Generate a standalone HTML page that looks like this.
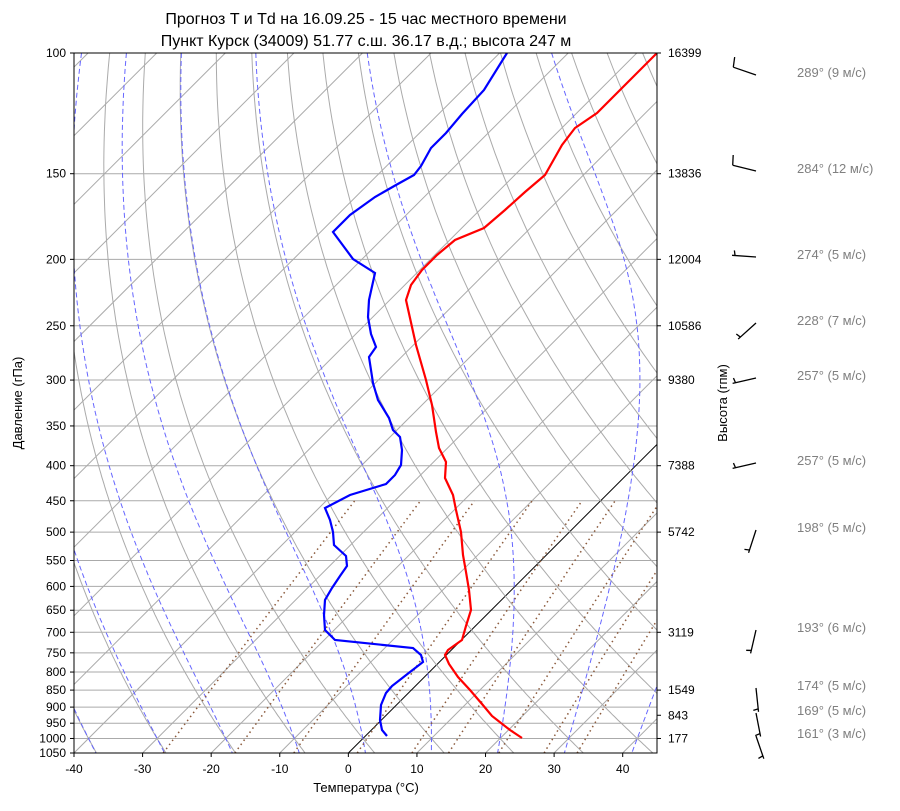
<!DOCTYPE html>
<html><head><meta charset="utf-8"><style>
body{margin:0;background:#fff;}
svg{font-family:"Liberation Sans","DejaVu Sans",sans-serif;}
</style></head><body>
<svg id="s" width="900" height="806" xmlns="http://www.w3.org/2000/svg">
<defs><clipPath id="c"><rect x="74" y="53" width="583" height="700"/></clipPath></defs>
<g id="bg" clip-path="url(#c)"></g>
<g id="prof" clip-path="url(#c)"></g>
<rect x="74" y="53" width="583" height="700" fill="none" stroke="#000" stroke-width="1"/>
<g id="ax"></g>
<text x="366" y="24" font-size="16" text-anchor="middle">Прогноз T и Td на 16.09.25 - 15 час местного времени</text>
<text x="366" y="46" font-size="16" text-anchor="middle">Пункт Курск (34009) 51.77 с.ш. 36.17 в.д.; высота 247 м</text>
<text x="366" y="792" font-size="13" text-anchor="middle">Температура (°C)</text>
<text transform="translate(22,403) rotate(-90)" font-size="13" text-anchor="middle">Давление (гПа)</text>
<text transform="translate(727,403) rotate(-90)" font-size="13" text-anchor="middle">Высота (гпм)</text>
</svg>
<script>
const NS="http://www.w3.org/2000/svg";
const L0=Math.log(100),L1=Math.log(1050),Y0=53,H=700;
function Y(p){return Y0+(Math.log(p)-L0)/(L1-L0)*H;}
function X(T,p){return 74+(T+40)*583/85+(753-Y(p));}
function el(par,tag,a,txt){const e=document.createElementNS(NS,tag);for(const k in a)e.setAttribute(k,a[k]);if(txt!==undefined)e.textContent=txt;document.getElementById(par).appendChild(e);return e;}
function pl(par,pts,st){el(par,"polyline",Object.assign({points:pts.map(q=>q[0].toFixed(1)+","+q[1].toFixed(1)).join(" "),fill:"none"},st));}
const ps=[];for(let p=1050;p>=100;p-=5)ps.push(p);
const ticks=[100,150,200,250,300,350,400,450,500,550,600,650,700,750,800,850,900,950,1000,1050];
ticks.forEach(p=>{el("bg","line",{x1:74,x2:657,y1:Y(p),y2:Y(p),stroke:"#aaa","stroke-width":1});
el("ax","text",{x:66,y:Y(p)+4,"font-size":12,"text-anchor":"end"},p);
el("ax","line",{x1:70,x2:74,y1:Y(p),y2:Y(p),stroke:"#000"});});
for(let T=-140;T<=50;T+=10){pl("bg",[[X(T,1050),Y(1050)],[X(T,100),Y(100)]],{stroke:T==0?"#000":"#aaa","stroke-width":1});}
for(let t=-50;t<=200;t+=10){const th=t+273.15;pl("bg",ps.map(p=>{const T=th*Math.pow(p/1000,0.2857)-273.15;return[X(T,p),Y(p)];}),{stroke:"#aaa","stroke-width":1});}
function es(T){return 6.112*Math.exp(17.67*T/(T+243.5));}
function dTdp(p,T){const Tk=T+273.15,e=es(T),rs=0.622*e/(p-e),Rd=287,Lv=2.501e6,Cp=1005;return (Rd*Tk+Lv*rs)/(p*(Cp+Lv*Lv*rs*0.622/(Rd*Tk*Tk)));}
function integ(T0,p0,p1,dp){const out=[[p0,T0]];let p=p0,T=T0;const n=Math.round(Math.abs(p1-p0)/Math.abs(dp));for(let i=0;i<n;i++){const k1=dTdp(p,T),k2=dTdp(p+dp/2,T+k1*dp/2),k3=dTdp(p+dp/2,T+k2*dp/2),k4=dTdp(p+dp,T+k3*dp);T+=dp*(k1+2*k2+2*k3+k4)/6;p+=dp;out.push([p,T]);}return out;}
for(let t=-40;t<=40;t+=10){let a=integ(t,1000,100,-5).reverse().concat(integ(t,1000,1050,5).slice(1));pl("bg",a.map(q=>[X(q[1],q[0]),Y(q[0])]),{stroke:"#6666ff","stroke-width":1,"stroke-dasharray":"5,3"});}
[0.0004,0.001,0.002,0.004,0.007,0.01,0.016,0.024,0.032].forEach(w=>{const a=[];for(let p=1050;p>=450;p-=10){const e=p*w/(0.622+w),l=Math.log(e/6.112),Td=243.5*l/(17.67-l);a.push([X(Td,p),Y(p)]);}pl("bg",a,{stroke:"#8b5a3c","stroke-width":1.5,"stroke-dasharray":"1.5,3.5"});});
for(let T=-40;T<=40;T+=10){const x=74+(T+40)*583/85;el("ax","line",{x1:x,x2:x,y1:753,y2:757,stroke:"#000"});el("ax","text",{x:x,y:773,"font-size":12,"text-anchor":"middle"},T);}
[[100,16399],[150,13836],[200,12004],[250,10586],[300,9380],[400,7388],[500,5742],[700,3119],[850,1549],[925,843],[1000,177]].forEach(h=>{el("ax","line",{x1:657,x2:661,y1:Y(h[0]),y2:Y(h[0]),stroke:"#000"});el("ax","text",{x:668,y:Y(h[0])+4,"font-size":12},h[1]);});
const red=[[522,738],[510,730],[492,716],[482,704],[470,690],[458,677],[449,664],[445,655],[448,650],[462,640],[466,626],[471,610],[469,590],[466,572],[463,555],[461,532],[456,510],[453,495],[445,478],[446,462],[439,448],[436,432],[432,405],[426,380],[416,345],[406,300],[411,285],[422,270],[437,255],[455,240],[484,228],[505,210],[525,192],[545,175],[562,145],[575,128],[597,113],[622,88],[657,53]];
const blue=[[387,736],[382,730],[380,720],[381,705],[386,693],[392,686],[410,672],[423,662],[421,655],[413,648],[335,640],[325,630],[324,615],[325,600],[332,588],[340,576],[347,566],[346,556],[334,545],[333,532],[330,520],[325,508],[350,495],[386,484],[395,475],[401,465],[402,450],[400,437],[393,430],[389,418],[378,400],[373,383],[369,357],[376,347],[371,334],[368,317],[369,300],[375,273],[353,259],[333,232],[350,215],[375,197],[396,185],[414,175],[421,166],[431,148],[446,133],[462,114],[484,90],[507,53]];
pl("prof",red,{stroke:"#f00","stroke-width":2.2});
pl("prof",blue,{stroke:"#00f","stroke-width":2.2});
[[73,289,9],[169,284,12],[255,274,5],[321,228,7],[376,257,5],[461,257,5],[528,198,5],[628,193,6],[686,174,5],[711,169,5],[734,161,3]].forEach(w=>{
const by=w[0]+2,bx=756,r=w[1]*Math.PI/180,ux=Math.sin(r),uy=-Math.cos(r),Ls=24;
const tx=bx+ux*Ls,ty=by+uy*Ls;const px=-uy,py=ux;
el("ax","line",{x1:bx,y1:by,x2:tx,y2:ty,stroke:"#000","stroke-width":1.3});
const v=w[2];const nf=v>=8?1:0,half=nf?0:1;
if(nf){el("ax","line",{x1:tx,y1:ty,x2:tx+px*10+ux*2,y2:ty+py*10+uy*2,stroke:"#000","stroke-width":1.3});}
if(half){const sx=tx-ux*3,sy=ty-uy*3;el("ax","line",{x1:sx,y1:sy,x2:sx+px*5+ux*1,y2:sy+py*5+uy*1,stroke:"#000","stroke-width":1.3});}
el("ax","text",{x:797,y:w[0]+4,"font-size":13,fill:"#808080"},w[1]+"° ("+w[2]+" м/с)");});
</script>
</body></html>
